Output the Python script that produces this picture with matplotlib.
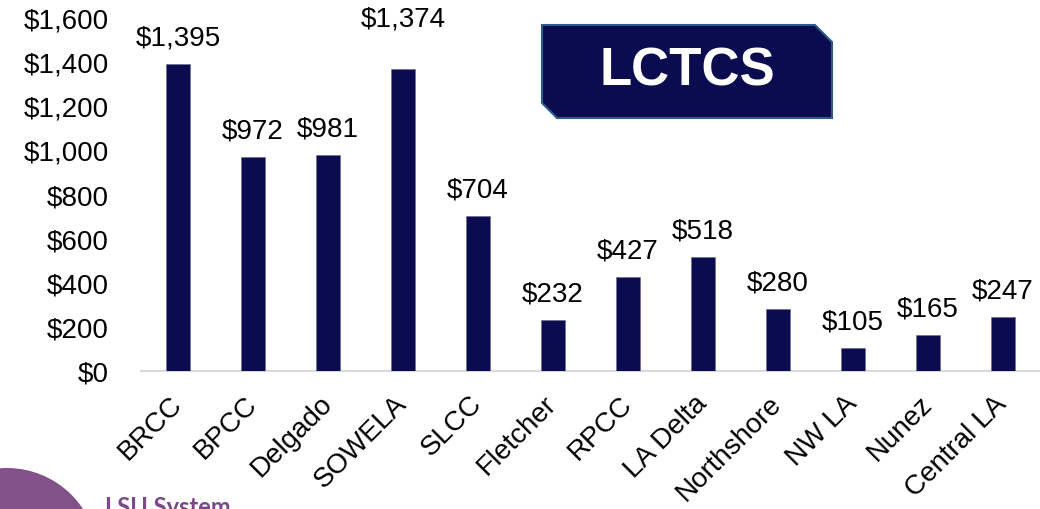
import numpy as np
import matplotlib.pyplot as plt
from matplotlib.patches import Polygon, Circle

plt.rcParams['font.family'] = ['Liberation Sans', 'DejaVu Sans']

##########
## Data ##
##########
schools = ["BRCC", "BPCC", "Delgado", "SOWELA", "SLCC", "Fletcher", "RPCC",
           "LA Delta", "Northshore", "NW LA", "Nunez", "Central LA"]
amounts = [1395, 972, 981, 1374, 704, 232, 427, 518, 280, 105, 165, 247]
yticks = [0, 200, 400, 600, 800, 1000, 1200, 1400, 1600]

bar_color = "#0b0c50"
W, H = 1040, 509

fig = plt.figure(figsize=(W / 100, H / 100), dpi=100)
ax = fig.add_axes([140.5 / W, 138 / H, 900 / W, 352 / H])

x = np.arange(len(schools))
ax.bar(x, amounts, width=0.31, color=bar_color, edgecolor="#6a6a90", linewidth=0.4, zorder=3)

#Value labels above bars (SOWELA label sits higher in the original)
for i, v in enumerate(amounts):
    off = 9
    if schools[i] == "SOWELA":
        off = 26
    ax.annotate(f"${v:,}", (x[i], v), xytext=(0, off), textcoords="offset points",
                ha="center", va="bottom", fontsize=20, color="black")

ax.set_xlim(-0.5, len(schools) - 0.5)
ax.set_ylim(0, 1600)
ax.set_yticks(yticks)
ax.set_yticklabels([f"${t:,}" for t in yticks])
ax.set_xticks(x)
ax.set_xticklabels(schools, rotation=45, ha="right", va="center", rotation_mode="anchor")
ax.tick_params(axis="y", length=0, pad=23, labelsize=20)
ax.tick_params(axis="x", length=0, pad=21, labelsize=20)

for s in ["top", "right", "left"]:
    ax.spines[s].set_visible(False)
ax.spines["bottom"].set_color("#d9d9d9")
ax.spines["bottom"].set_linewidth(1.5)
ax.set_facecolor("none")

#LCTCS banner box (pixel coords -> figure fraction)
def px(xp, yp):
    return (xp / W, 1 - yp / H)

box = [px(542, 25), px(815, 25), px(832, 42), px(832, 118), px(557, 118), px(542, 103)]
fig.patches.append(Polygon(box, closed=True, transform=fig.transFigure,
                           facecolor="#0b0c50", edgecolor="#2f5a8c", linewidth=1.5))
fig.text(687 / W, 1 - 71 / H, "LCTCS", ha="center", va="center", fontsize=38,
         fontweight="bold", color="white")

#Purple logo corner + LSU System text
fig.patches.append(Circle((7, -50), 91, transform=None, facecolor="#835189", edgecolor="none"))
fig.text(105 / W, -6 / H, "LSU System", ha="left", va="baseline", fontsize=17,
         fontweight="bold", color="#7a4a88", family=["Lato", "DejaVu Sans"])

plt.savefig("out.png", dpi=100)
